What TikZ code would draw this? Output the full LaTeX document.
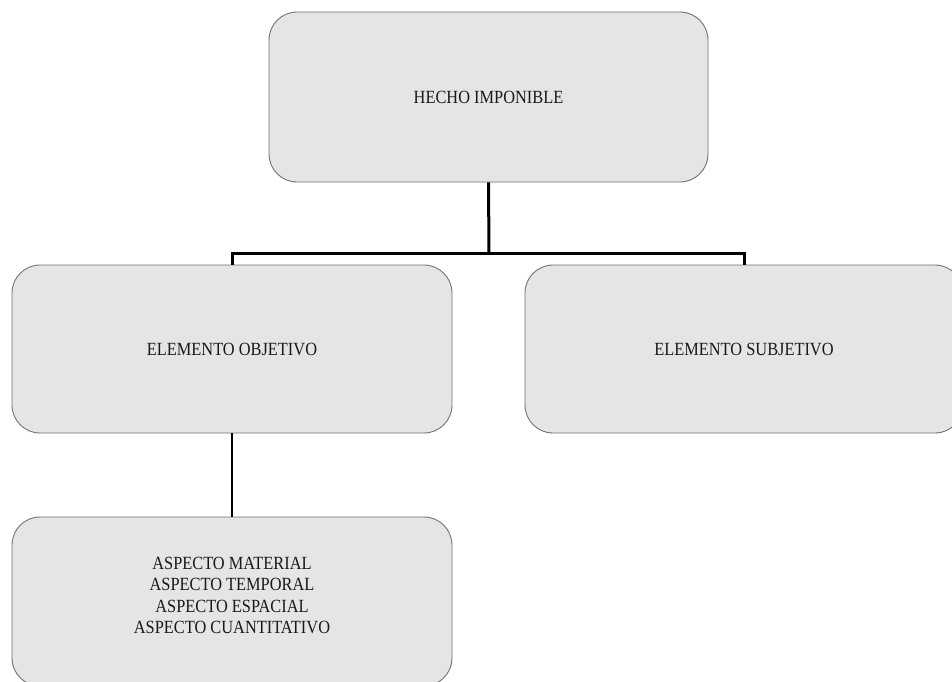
\documentclass[tikz,border=0pt]{standalone}
\usepackage{fontspec}
\setmainfont[FakeStretch=0.88]{Liberation Serif}
\begin{document}
\begin{tikzpicture}[x=1pt,y=-1pt,
  box/.style={draw=black!55, line width=0.9pt, fill=black!10, rounded corners=28pt,
    inner sep=0pt, align=center, text=black!90,
    font=\fontsize{18.6}{21.5}\selectfont},
  conn/.style={draw=black, line width=3pt},
  connthin/.style={draw=black, line width=2.5pt}]
\useasboundingbox (0,0) rectangle (952,681);
\clip (0,0) rectangle (952,681);
\fill[white] (0,0) rectangle (952,681);
\node[box, minimum width=439pt, minimum height=170pt] (top) at (488.5,97) {HECHO IMPONIBLE};
\node[box, minimum width=440pt, minimum height=168pt] (lm) at (232,349) {ELEMENTO OBJETIVO};
\node[box, minimum width=438pt, minimum height=168pt] (rm) at (744,349) {ELEMENTO SUBJETIVO};
\node[box, minimum width=440pt, minimum height=169pt, text depth=12pt] (bt) at (232,601.5) {ASPECTO MATERIAL\\ASPECTO TEMPORAL\\ASPECTO ESPACIAL\\ASPECTO CUANTITATIVO};
\coordinate (jn) at (489,253);
\draw[conn] (top.south) -- (jn);
\draw[conn] (lm.north) |- (jn) -| (rm.north);
\draw[connthin] (lm.south) -- (bt.north);
\end{tikzpicture}
\end{document}
